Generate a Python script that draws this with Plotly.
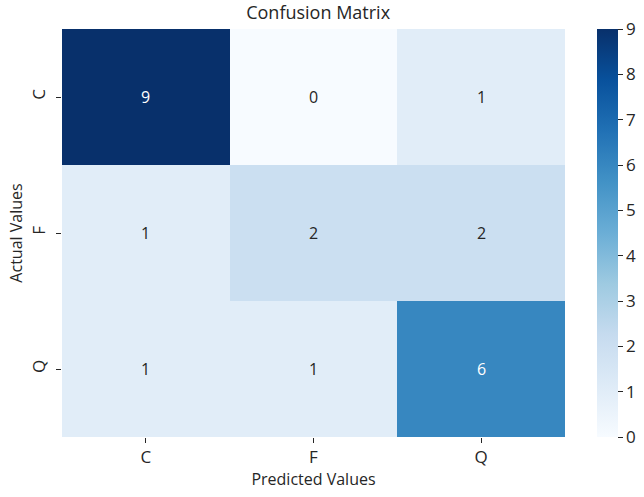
import plotly.graph_objects as go

predicted = ["C", "F", "Q"]
actual = ["C", "F", "Q"]
counts = [
    [9, 0, 1],
    [1, 2, 2],
    [1, 1, 6],
]
cbar_ticks = [0, 1, 2, 3, 4, 5, 6, 7, 8, 9]

blues = ["#f7fbff", "#deebf7", "#c6dbef", "#9ecae1", "#6baed6",
         "#4292c6", "#2171b5", "#08519c", "#08306b"]
colorscale = [[i / (len(blues) - 1), c] for i, c in enumerate(blues)]

FONT = "Open Sans"
TXT = "#262626"

fig = go.Figure()
fig.add_trace(go.Heatmap(
    z=counts, x=predicted, y=actual,
    colorscale=colorscale, zmin=0, zmax=9,
    xgap=0, ygap=0, hoverinfo="skip",
    colorbar=dict(
        x=1.0636, xanchor="left", xpad=0,
        y=0.5, yanchor="middle", len=1, lenmode="fraction", ypad=0,
        thickness=21, outlinewidth=0,
        tickvals=cbar_ticks, ticks="outside", ticklen=5, tickwidth=1,
        tickcolor=TXT, tickfont=dict(family=FONT, size=17, color=TXT),
    ),
))

vmax = 9
for i, row in enumerate(counts):
    for j, v in enumerate(row):
        fig.add_annotation(
            x=predicted[j], y=actual[i], text=str(v), showarrow=False,
            font=dict(family=FONT, size=16,
                      color="white" if v / vmax > 0.6 else TXT),
        )

fig.update_layout(
    width=644, height=497,
    margin=dict(l=62, r=79, t=29, b=60, autoexpand=False),
    paper_bgcolor="white", plot_bgcolor="white",
    title=dict(text="Confusion Matrix", x=0.494, xanchor="center",
               y=1 - 12.5 / 497, yanchor="middle",
               font=dict(family=FONT, size=18, color=TXT)),
    xaxis=dict(title=dict(text="Predicted Values", standoff=2,
                          font=dict(family=FONT, size=16, color=TXT)),
               automargin=False,
               ticks="outside", ticklen=5, tickcolor=TXT,
               tickfont=dict(family=FONT, size=17, color=TXT),
               showgrid=False, zeroline=False, showline=False),
    yaxis=dict(title=dict(text="Actual Values", standoff=0,
                          font=dict(family=FONT, size=16, color=TXT)),
               automargin=False,
               autorange="reversed",
               ticks="outside", ticklen=5, tickcolor=TXT, tickangle=-90,
               ticklabelstandoff=4,
               tickfont=dict(family=FONT, size=17, color=TXT),
               showgrid=False, zeroline=False, showline=False),
)

fig.write_html("out.html",
               config={"displayModeBar": False},
               post_script="document.body.style.margin='0px';"
                           "document.body.style.overflow='hidden';")
